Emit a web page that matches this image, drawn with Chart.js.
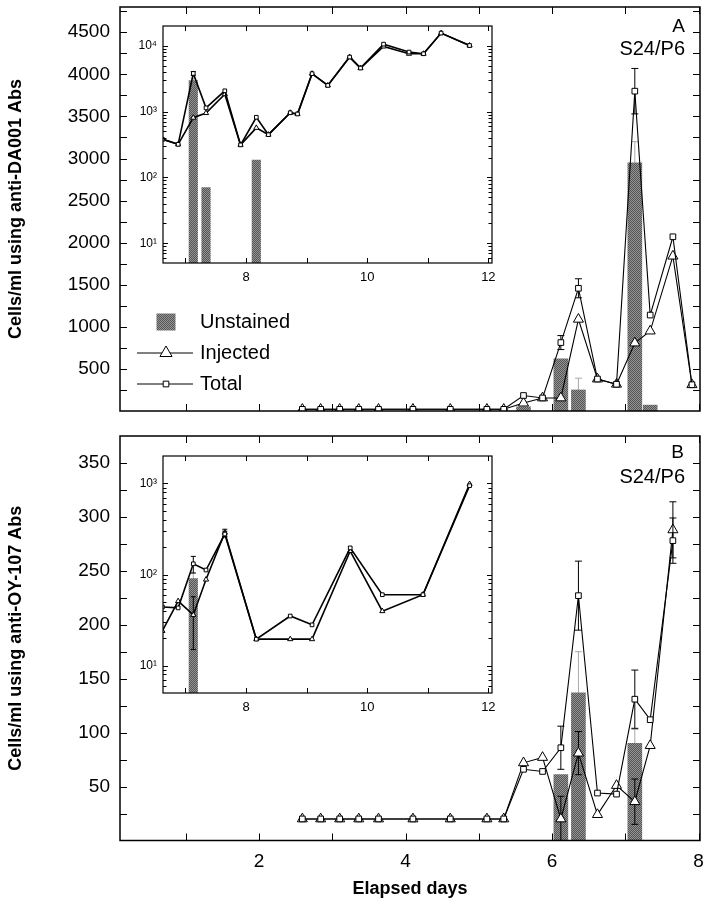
<!DOCTYPE html>
<html lang="en">
<head>
<meta charset="utf-8">
<title>S24/P6 cell counts</title>
<script src="https://cdn.jsdelivr.net/npm/chart.js@4.4.1/dist/chart.umd.min.js"></script>
<style>
  body { margin: 0; background: #fff; }
  #wrap { position: relative; width: 713px; height: 904px; }
  canvas { position: absolute; }
  #mainA { left: 0; top: 0; }
  #mainB { left: 0; top: 425px; }
  #insetA { left: 113px; top: 16px; }
  #insetB { left: 113px; top: 446px; }
</style>
</head>
<body>
<div id="wrap">
  <canvas id="mainA" width="713" height="425"></canvas>
  <canvas id="mainB" width="713" height="479"></canvas>
  <canvas id="insetA" width="400" height="280"></canvas>
  <canvas id="insetB" width="400" height="280"></canvas>
</div>
<script>
const FONT = '"Liberation Sans", Arial, Helvetica, sans-serif';

// panel A : anti-DA001
const daysA = [2.59, 2.84, 3.10, 3.36, 3.63, 4.10, 4.61, 5.11, 5.34, 5.61, 5.87, 6.12, 6.36, 6.62, 6.88, 7.13,
  7.34, 7.65, 7.91, 8.17, 8.37, 8.73, 8.85, 9.09, 9.35, 9.71, 9.89, 10.27, 10.69, 10.93, 11.22, 11.69];
const injectedA = [20, 20, 20, 20, 20, 20, 20, 20, 20, 94, 155, 155, 1090, 380, 318, 808,
  950, 1840, 312, 566, 446, 960, 920, 3770, 2500, 6740, 4590, 9760, 7570, 7570, 15600, 10100];
const totalA = [20, 20, 20, 20, 20, 20, 20, 20, 20, 184, 155, 813, 1458, 380, 318, 3800,
  1140, 2070, 312, 820, 446, 960, 920, 3770, 2500, 6740, 4590, 10600, 8030, 7570, 15600, 10100];
const unstainedA = [null, null, null, null, null, null, null, null, null, 50, null, 620, 250, null, null, 2950,
  70, null, null, 183, null, null, null, null, null, null, null, null, null, null, null, null];
const injectedErrA = [];
const totalErrA = [null, null, null, null, null, null, null, null, null, null, null, 83, 113, null, null, 270];
const unstainedErrA = [null, null, null, null, null, null, null, null, null, null, null, null, 140, null, null, 250];

// panel B : anti-OY-107
const daysB = [2.59, 2.84, 3.10, 3.36, 3.63, 4.10, 4.61, 5.11, 5.34, 5.61, 5.87, 6.12, 6.36, 6.62, 6.88, 7.13,
  7.34, 7.65, 8.17, 8.73, 9.09, 9.72, 10.25, 10.92, 11.69];
const injectedB = [20, 20, 20, 20, 20, 20, 20, 20, 20, 72, 77, 20, 81, 24, 51, 36,
  88, 288, 19.5, 19.5, 19.5, 181, 39.6, 60, 985];
const totalB = [20, 20, 20, 20, 20, 20, 20, 20, 20, 66, 64, 86, 227, 44, 43, 131,
  112, 278, 19.5, 35, 28, 196, 60, 60, 945];
const unstainedB = [null, null, null, null, null, null, null, null, null, null, null, 61, 137, null, null, 90,
  null, null, null, null, null, null, null, null, null];
const injectedErrB = [null, null, null, null, null, null, null, null, null, null, null, 21, 20, null, null, 21, null, 26];
const totalErrB = [null, null, null, null, null, null, null, null, null, null, null, 20, 32, null, null, 27, null, 21];
const unstainedErrB = [null, null, null, null, null, null, null, null, null, null, null, null, 38, null, null, 13];

// axes
const mainXLabels = [2, 4, 6, 8];
const mainXTicks = [1, 2, 3, 4, 5, 6, 7, 8];
const yLabelsA = [500, 1000, 1500, 2000, 2500, 3000, 3500, 4000, 4500];
const yLabelsB = [50, 100, 150, 200, 250, 300, 350];
const insetXLabels = [8, 10, 12];
const insetXTicks = [7, 8, 9, 10, 11, 12];
const insetYLabelsA = [10, 100, 1000, 10000];
const insetYLabelsB = [10, 100, 1000];
const SUP = { 10: '10\u00b9', 100: '10\u00b2', 1000: '10\u00b3', 10000: '10\u2074' };

function pts(days, vals, errs, lo, hi) {
  const out = [];
  days.forEach((d, i) => {
    if (d >= lo && d <= hi) out.push({ x: d, y: vals[i], e: errs[i] == null ? null : errs[i] });
  });
  return out;
}
function every(step, max) {
  const t = [];
  for (let v = step; v < max; v += step) t.push(v);
  return t;
}
function logMinor(min, max) {
  const t = [];
  for (let d = 1; d <= 10000; d *= 10)
    for (let m = 2; m <= 9; m++) if (m * d > min && m * d < max) t.push(m * d);
  return t;
}

// stippled grey for the bars
const tile = document.createElement('canvas');
tile.width = 2; tile.height = 2;
const tg = tile.getContext('2d');
tg.fillStyle = '#949494'; tg.fillRect(0, 0, 2, 2);
tg.fillStyle = '#555555'; tg.fillRect(0, 0, 1, 1); tg.fillRect(1, 1, 1, 1);
const stipple = document.getElementById('mainA').getContext('2d').createPattern(tile, 'repeat');

function marker(ctx, style, r, x, y) {
  ctx.beginPath();
  if (style === 'triangle') {
    for (let k = 0; k < 3; k++) {
      const a = k * 2 * Math.PI / 3;
      const px = x + Math.sin(a) * r, py = y - Math.cos(a) * r;
      k ? ctx.lineTo(px, py) : ctx.moveTo(px, py);
    }
    ctx.closePath();
  } else {
    const s = r * Math.SQRT1_2;
    ctx.rect(x - s, y - s, 2 * s, 2 * s);
  }
  ctx.fill(); ctx.stroke();
}

const errorBars = {
  id: 'errorBars',
  beforeDatasetDraw(chart, args) {
    const ds = chart.data.datasets[args.index];
    if (!ds.errColor) return;
    const { ctx, chartArea: a } = chart;
    const ys = chart.scales.y;
    ctx.save();
    ctx.beginPath();
    ctx.rect(a.left, a.top, a.right - a.left, a.bottom - a.top);
    ctx.clip();
    ctx.strokeStyle = ds.errColor;
    ctx.lineWidth = 1;
    ctx.beginPath();
    args.meta.data.forEach((el, j) => {
      const p = ds.data[j];
      if (!p || p.e == null || p.y == null) return;
      const c = ds.errCap;
      const top = ys.getPixelForValue(p.y + p.e);
      const low = p.y - p.e;
      const bot = low > ys.min ? ys.getPixelForValue(low) : a.bottom;
      ctx.moveTo(el.x, top); ctx.lineTo(el.x, bot);
      ctx.moveTo(el.x - c, top); ctx.lineTo(el.x + c, top);
      if (low > ys.min) { ctx.moveTo(el.x - c, bot); ctx.lineTo(el.x + c, bot); }
    });
    ctx.stroke();
    ctx.restore();
  }
};

const frame = {
  id: 'frame',
  afterDraw(chart, args, o) {
    const { ctx, chartArea: a, scales: { x, y } } = chart;
    ctx.save();
    ctx.strokeStyle = '#000';
    ctx.lineWidth = o.width;
    ctx.strokeRect(a.left, a.top, a.right - a.left, a.bottom - a.top);
    ctx.lineWidth = 1;
    ctx.beginPath();
    o.xTicks.forEach(v => {
      const px = Math.round(x.getPixelForValue(v)) + 0.5;
      ctx.moveTo(px, a.bottom); ctx.lineTo(px, a.bottom - o.len);
      ctx.moveTo(px, a.top); ctx.lineTo(px, a.top + o.len);
    });
    const yt = (list, len) => list.forEach(v => {
      const py = Math.round(y.getPixelForValue(v)) + 0.5;
      ctx.moveTo(a.left, py); ctx.lineTo(a.left + len, py);
      ctx.moveTo(a.right, py); ctx.lineTo(a.right - len, py);
    });
    yt(o.yTicks, o.len);
    yt(o.yMinor || [], o.minorLen || o.len);
    ctx.stroke();
    ctx.restore();
  }
};

const notes = {
  id: 'notes',
  afterDraw(chart, args, o) {
    const ctx = chart.ctx;
    ctx.save();
    ctx.textBaseline = 'middle';
    (o.texts || []).forEach(t => {
      ctx.fillStyle = '#000';
      ctx.font = t.size + 'px ' + FONT;
      ctx.textAlign = t.align || 'left';
      ctx.fillText(t.text, t.x, t.y);
    });
    if (o.legend) {
      const lg = o.legend;
      lg.rows.forEach(r => {
        const d = chart.data.datasets.find(s => s.label === r.label);
        if (d.type === 'bar') {
          ctx.fillStyle = d.backgroundColor;
          ctx.fillRect(lg.mx - 9.5, r.y - 8.5, 19, 17);
        } else {
          ctx.strokeStyle = '#000'; ctx.lineWidth = 1;
          ctx.beginPath(); ctx.moveTo(lg.x0, r.y); ctx.lineTo(lg.x1, r.y); ctx.stroke();
          ctx.fillStyle = '#fff';
          marker(ctx, d.pointStyle, r.radius, lg.mx, r.y);
        }
        ctx.fillStyle = '#000';
        ctx.font = lg.size + 'px ' + FONT;
        ctx.textAlign = 'left';
        ctx.fillText(r.label, lg.tx, r.y);
      });
    }
    ctx.restore();
  }
};

Chart.register(errorBars, frame, notes);

function datasets(c, lo, hi, m) {
  return [
    { type: 'line', label: 'Total', data: pts(c.days, c.total, c.totalErr, lo, hi), order: 1,
      borderColor: '#000', borderWidth: m.lw, tension: 0, pointStyle: 'rect', pointRadius: m.sq,
      pointBackgroundColor: '#fff', pointBorderColor: '#000', pointBorderWidth: 1,
      errColor: '#000', errCap: m.cap },
    { type: 'line', label: 'Injected', data: pts(c.days, c.injected, c.injectedErr, lo, hi), order: 2,
      borderColor: '#000', borderWidth: m.lw, tension: 0, pointStyle: 'triangle', pointRadius: m.tri,
      pointBackgroundColor: '#fff', pointBorderColor: '#000', pointBorderWidth: 1,
      errColor: '#000', errCap: m.cap },
    { type: 'bar', label: 'Unstained', data: pts(c.days, c.unstained, c.unstainedErr, lo, hi), order: 3,
      backgroundColor: stipple, borderWidth: 0, barThickness: m.bar, errColor: '#a8a8a8', errCap: m.cap }
  ];
}

function mainChart(id, c) {
  return new Chart(document.getElementById(id), {
    type: 'bar',
    data: { datasets: datasets(c, 0, 8, { lw: 1.1, sq: 4, tri: 5.8, cap: 3.5, bar: 14 }) },
    options: {
      responsive: false, animation: false, events: [],
      layout: { padding: { left: 0, top: c.padTop, right: 13, bottom: 0 } },
      plugins: {
        legend: { display: false }, tooltip: { enabled: false },
        frame: { width: 1.5, len: 7, xTicks: mainXTicks, yTicks: every(c.yMinorStep, c.yMax) },
        notes: { texts: c.texts, legend: c.legend }
      },
      scales: {
        x: {
          type: 'linear', min: 0.1, max: 8.02, offset: false,
          grid: { display: false, drawTicks: false, offset: false }, border: { display: false },
          ticks: { display: c.xLabels, autoSkip: false, maxRotation: 0, color: '#000', padding: 10,
                   font: { family: FONT, size: 19 }, callback: v => String(v) },
          afterBuildTicks: s => { s.ticks = mainXLabels.map(v => ({ value: v })); },
          afterFit: s => { s.height = c.xHeight; s.paddingLeft = 0; s.paddingRight = 0; },
          title: { display: !!c.xTitle, text: c.xTitle, color: '#000',
                   font: { family: FONT, size: 18, weight: 'bold' }, padding: { top: 0, bottom: 4 } }
        },
        y: {
          type: 'linear', min: 0, max: c.yMax,
          grid: { display: false, drawTicks: false }, border: { display: false },
          ticks: { autoSkip: false, color: '#000', padding: 10, font: { family: FONT, size: 19 },
                   callback: v => String(v) },
          afterBuildTicks: s => { s.ticks = c.yLabels.map(v => ({ value: v })); },
          afterFit: s => { s.width = 120; s.paddingTop = 0; s.paddingBottom = 0; },
          title: { display: true, text: c.yTitle, color: '#000',
                   font: { family: FONT, size: 18, weight: 'bold' }, padding: { top: 5, bottom: 0 } }
        }
      }
    }
  });
}

function insetChart(id, c) {
  return new Chart(document.getElementById(id), {
    type: 'bar',
    data: { datasets: datasets(c, 6.6, 12.1, { lw: 1.6, sq: 2.6, tri: 3, cap: 2.5, bar: 8.5 }) },
    options: {
      responsive: false, animation: false, events: [],
      layout: { padding: { left: 0, top: 10, right: 21, bottom: 0 } },
      plugins: {
        legend: { display: false }, tooltip: { enabled: false },
        frame: { width: 1.2, len: 5, minorLen: 3.5, xTicks: insetXTicks, yTicks: c.yLabels,
                 yMinor: logMinor(c.yMin, c.yMax) }
      },
      scales: {
        x: {
          type: 'linear', min: 6.63, max: 12.06, offset: false,
          grid: { display: false, drawTicks: false, offset: false }, border: { display: false },
          ticks: { autoSkip: false, maxRotation: 0, color: '#000', padding: 7, font: { family: FONT, size: 13 },
                   callback: v => String(v) },
          afterBuildTicks: s => { s.ticks = insetXLabels.map(v => ({ value: v })); },
          afterFit: s => { s.height = 33; s.paddingLeft = 0; s.paddingRight = 0; }
        },
        y: {
          type: 'logarithmic', min: c.yMin, max: c.yMax,
          grid: { display: false, drawTicks: false }, border: { display: false },
          ticks: { autoSkip: false, color: '#000', padding: 6, font: { family: FONT, size: 12 },
                   callback: v => SUP[v] || '' },
          afterBuildTicks: s => { s.ticks = c.yLabels.map(v => ({ value: v })); },
          afterFit: s => { s.width = 50; s.paddingTop = 0; s.paddingBottom = 0; }
        }
      }
    }
  });
}

const panelA = {
  days: daysA, injected: injectedA, total: totalA, unstained: unstainedA,
  injectedErr: injectedErrA, totalErr: totalErrA, unstainedErr: unstainedErrA
};
const panelB = {
  days: daysB, injected: injectedB, total: totalB, unstained: unstainedB,
  injectedErr: injectedErrB, totalErr: totalErrB, unstainedErr: unstainedErrB
};

mainChart('mainA', Object.assign({}, panelA, {
  padTop: 7, xHeight: 14, yMax: 4800, yMinorStep: 250, yLabels: yLabelsA, xLabels: false,
  yTitle: 'Cells/ml using anti-DA001 Abs',
  texts: [{ text: 'A', x: 685, y: 27, size: 19, align: 'right' },
          { text: 'S24/P6', x: 685, y: 49, size: 20, align: 'right' }],
  legend: { x0: 137, x1: 193, mx: 166, tx: 200, size: 20,
            rows: [{ label: 'Unstained', y: 322 }, { label: 'Injected', y: 353, radius: 7 },
                   { label: 'Total', y: 384, radius: 4 }] }
}));

mainChart('mainB', Object.assign({}, panelB, {
  padTop: 11, xHeight: 63.5, yMax: 375, yMinorStep: 25, yLabels: yLabelsB, xLabels: true,
  yTitle: 'Cells/ml using anti-OY-107 Abs', xTitle: 'Elapsed days',
  texts: [{ text: 'B', x: 684, y: 28, size: 19, align: 'right' },
          { text: 'S24/P6', x: 685, y: 52, size: 20, align: 'right' }]
}));

insetChart('insetA', Object.assign({}, panelA, { yMin: 5, yMax: 20000, yLabels: insetYLabelsA }));
insetChart('insetB', Object.assign({}, panelB, { yMin: 5, yMax: 2000, yLabels: insetYLabelsB }));
</script>
</body>
</html>
